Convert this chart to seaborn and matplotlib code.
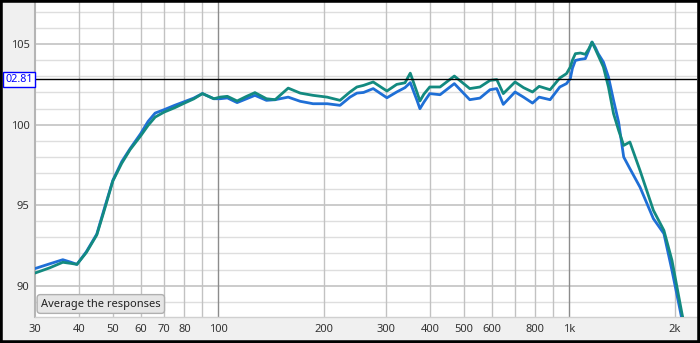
import numpy as np
import pandas as pd
import matplotlib
matplotlib.use("Agg")
import matplotlib.pyplot as plt
import matplotlib.transforms as mtransforms
from matplotlib.patches import Rectangle
import seaborn as sns

# ---- data ----
freq = [30, 33, 36, 38, 39.5, 42, 45, 47, 50, 53, 56, 60, 63, 66, 70, 75, 80, 85, 90, 97,
        101, 106, 113, 120, 127, 137, 145, 158, 171, 186, 204, 222, 237, 248, 259, 276,
        302, 322, 340, 352, 368, 375, 385, 400, 428, 470, 520, 556, 594, 621, 648, 700,
        740, 785, 820, 881, 939, 981, 1006, 1020, 1040, 1075, 1110, 1135, 1160, 1185,
        1208, 1250, 1292, 1336, 1381, 1428, 1487, 1589, 1735, 1859, 1960, 2093, 2150]
spl_blue = [91.06, 91.35, 91.61, 91.45, 91.32, 92.1, 93.2, 94.6, 96.54, 97.7, 98.51, 99.44,
            100.2, 100.72, 100.93, 101.2, 101.43, 101.65, 101.93, 101.61,
            101.61, 101.66, 101.37, 101.6, 101.82, 101.51, 101.55, 101.71, 101.45, 101.3,
            101.3, 101.2, 101.71, 101.96, 102.0, 102.24,
            101.67, 102.03, 102.3, 102.61, 101.5, 100.99, 101.4, 101.93, 101.86, 102.55,
            101.55, 101.65, 102.17, 102.24, 101.26, 102.03,
            101.71, 101.34, 101.71, 101.55, 102.34, 102.55, 102.86, 103.5, 103.99, 104.06,
            104.1, 104.6, 105.13, 104.8,
            104.41, 103.89, 102.96, 101.51, 100.16, 97.99, 97.27, 96.12, 94.16, 93.23,
            90.95, 87.9, 86.5]
spl_teal = [90.78, 91.1, 91.45, 91.38, 91.32, 92.05, 93.15, 94.5, 96.5, 97.6, 98.45, 99.3,
            99.95, 100.47, 100.78, 101.05, 101.34, 101.6, 101.93, 101.61,
            101.71, 101.76, 101.47, 101.75, 101.99, 101.61, 101.55, 102.27, 101.96, 101.82,
            101.71, 101.51, 102.03, 102.34, 102.44, 102.65,
            102.09, 102.5, 102.6, 103.2, 102.0, 101.47, 101.9, 102.34, 102.34, 103.02,
            102.24, 102.34, 102.75, 102.8, 101.93, 102.65,
            102.3, 102.03, 102.38, 102.17, 102.9, 103.17, 103.58, 104.0, 104.41, 104.45,
            104.37, 104.7, 105.13, 104.7,
            104.3, 103.58, 102.34, 100.68, 99.65, 98.71, 98.92, 97.16, 94.68, 93.43,
            91.57, 88.26, 87.0]
series_names = ["Response 1", "Response 2"]
x_tick_values = [30, 40, 50, 60, 70, 80, 100, 200, 300, 400, 500, 600, 800, 1000, 2000]
x_tick_labels = ["30", "40", "50", "60", "70", "80", "100", "200", "300", "400", "500",
                 "600", "800", "1k", "2k"]
y_tick_values = [90, 95, 100, 105]
cursor_value = 102.81
cursor_label = "02.81"
button_text = "Average the responses"

df = pd.DataFrame({
    "freq": freq + freq,
    "spl": spl_blue + spl_teal,
    "series": [series_names[0]] * len(freq) + [series_names[1]] * len(freq),
})

sns.set_style("white")
plt.rcParams["font.family"] = ["Noto Sans", "DejaVu Sans"]

W, H = 700, 343
fig = plt.figure(figsize=(W / 100, H / 100), dpi=100)
fig.patch.set_facecolor("#f0f0f0")
x0, x1, y0, y1 = 35, 697, 2, 317
ax = fig.add_axes([x0 / W, 1 - y1 / H, (x1 - x0) / W, (y1 - y0) / H])
ax.set_facecolor("white")

ax.set_xscale("log")
ax.set_xlim(30, 2310)
ax.set_ylim(88.05, 107.62)

# grid lines
for v in np.arange(88, 108, 1):
    if v % 5 == 0:
        ax.axhline(v, color="#bdbdbd", lw=1.1, zorder=0.5)
    else:
        ax.axhline(v, color="#dedede", lw=1.0, zorder=0.4)
vgrid = [40, 50, 60, 70, 80, 90, 200, 300, 400, 500, 600, 700, 800, 900, 2000]
for v in vgrid:
    ax.axvline(v, color="#c2c2c2", lw=1.0, zorder=0.5)
for v in [100, 1000]:
    ax.axvline(v, color="#8c8c8c", lw=1.0, zorder=0.6)

sns.lineplot(data=df, x="freq", y="spl", hue="series", estimator=None, sort=False,
             palette=["#1f6fd6", "#138a80"], linewidth=2.0, legend=False, ax=ax, zorder=3)
for ln in ax.get_lines()[-2:]:
    ln.set_solid_joinstyle("round")
    ln.set_solid_capstyle("round")

# cursor line
ax.axhline(cursor_value, color="black", lw=1.0, zorder=4)
trans = mtransforms.blended_transform_factory(ax.transAxes, ax.transData)
ax.text(-0.0035, cursor_value, cursor_label, transform=trans, ha="right", va="center",
        fontsize=7.8, color="#0000ff", clip_on=False, zorder=6,
        bbox=dict(boxstyle="square,pad=0.2", fc="white", ec="#0000ff", lw=1.0))

# ticks
ax.set_xticks(x_tick_values)
ax.set_xticklabels(x_tick_labels)
ax.xaxis.set_minor_locator(matplotlib.ticker.NullLocator())
ax.set_yticks(y_tick_values)
ax.tick_params(axis="both", length=0, labelsize=8, labelcolor="#333333")
ax.tick_params(axis="x", pad=5)
ax.tick_params(axis="y", pad=4)
ax.set_xlabel("")
ax.set_ylabel("")

for s in ["top", "right"]:
    ax.spines[s].set_visible(False)
ax.spines["left"].set_color("#b5b5b5")
ax.spines["bottom"].set_color("#d0d0d0")
ax.spines["left"].set_linewidth(1.5)
ax.spines["bottom"].set_linewidth(1.0)

# button
bx = (41 - x0) / (x1 - x0)
by = (y1 - 304) / (y1 - y0)
ax.text(bx, by, button_text, transform=ax.transAxes, ha="left", va="center",
        fontsize=8, color="#222222", zorder=7,
        bbox=dict(boxstyle="round,pad=0.35,rounding_size=0.3", fc="#e6e6e6", ec="#b0b0b0", lw=1.0))

# outer black frame
fig.add_artist(Rectangle((0, 0), 1, 1, transform=fig.transFigure, fill=False,
                         ec="black", lw=4.0, clip_on=False, zorder=10))

fig.savefig("out.png", dpi=100, facecolor=fig.get_facecolor())
